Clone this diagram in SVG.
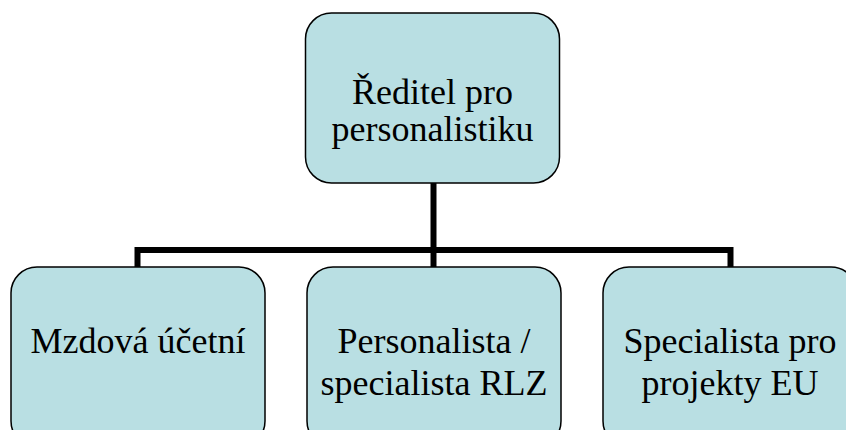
<svg xmlns="http://www.w3.org/2000/svg" width="846" height="430" viewBox="0 0 846 430">
<style>
.box{fill:#B9DFE3;stroke:#000;stroke-width:1.5}
.lbl{font-family:'Liberation Serif','Times New Roman',serif;font-size:36px;fill:#000;text-anchor:middle}
.conn{fill:none;stroke:#000;stroke-width:6}
</style>
<rect width="846" height="430" fill="#fff"/>
<g id="connectors">
<path class="conn" d="M433.5 182 V250"/>
<path class="conn" d="M137.5 267 V250 H730.5 V267"/>
<path class="conn" d="M433.5 250 V267"/>
</g>
<g id="n-reditel">
<rect class="box" x="305.5" y="13" width="254" height="170" rx="26"/>
<text class="lbl" x="432.5" y="104">Ředitel pro</text>
<text class="lbl" x="432.5" y="141">personalistiku</text>
</g>
<g id="n-mzdova">
<rect class="box" x="11" y="267" width="254" height="180" rx="26"/>
<text class="lbl" x="138" y="353">Mzdová účetní</text>
</g>
<g id="n-personalista">
<rect class="box" x="307" y="267" width="254" height="180" rx="26"/>
<text class="lbl" x="434" y="353">Personalista /</text>
<text class="lbl" x="434" y="395">specialista RLZ</text>
</g>
<g id="n-specialista">
<rect class="box" x="603" y="267" width="254" height="180" rx="26"/>
<text class="lbl" x="730" y="353">Specialista pro</text>
<text class="lbl" x="730" y="395">projekty EU</text>
</g>
</svg>
